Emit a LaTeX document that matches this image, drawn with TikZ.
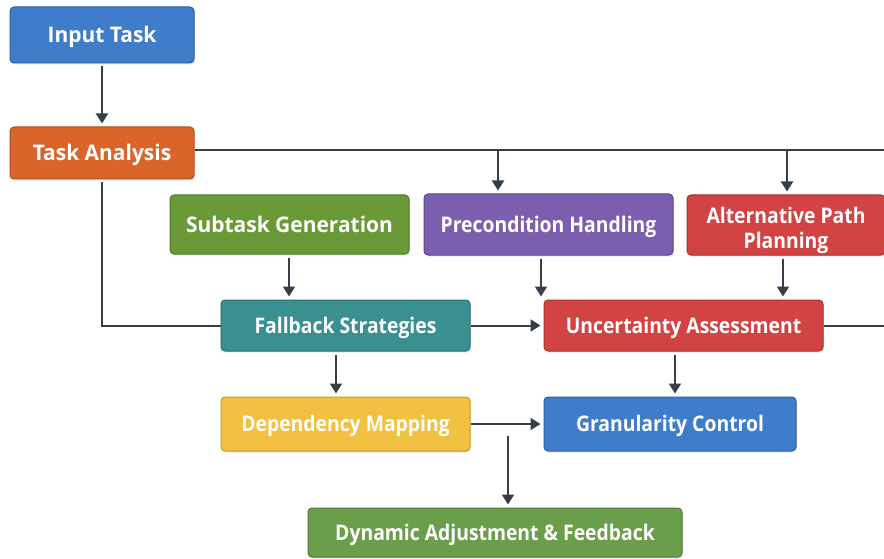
\documentclass[tikz,border=0pt]{standalone}
\usepackage{fontspec}
\setmainfont{Open Sans}[FakeStretch=0.9]
\newfontfamily\widefont{Open Sans}[FakeStretch=0.975]
\usetikzlibrary{arrows.meta,shadows}
\definecolor{lineC}{HTML}{363E4A}
\definecolor{cBlue}{HTML}{3F7DCA}
\definecolor{cBlueD}{HTML}{2D5E9C}
\definecolor{cOrange}{HTML}{D9652B}
\definecolor{cOrangeD}{HTML}{B04D1E}
\definecolor{cGreen}{HTML}{6A9A38}
\definecolor{cGreenD}{HTML}{507A28}
\definecolor{cPurple}{HTML}{7B5EAE}
\definecolor{cPurpleD}{HTML}{5C4389}
\definecolor{cRed}{HTML}{D24343}
\definecolor{cRedD}{HTML}{A83030}
\definecolor{cTeal}{HTML}{3A9090}
\definecolor{cTealD}{HTML}{2A6E6E}
\definecolor{cYellow}{HTML}{F2C141}
\definecolor{cYellowD}{HTML}{C99A2A}
\definecolor{cGreen2}{HTML}{6B9E4B}
\definecolor{cGreen2D}{HTML}{507C35}
\tikzset{
  box/.style={rounded corners=4pt, line width=1pt, text=white,
    font=\fontsize{21.5}{25}\selectfont\bfseries, align=center,
    text height=15.4pt, text depth=0pt,
    inner sep=0pt, drop shadow={opacity=0.18, shadow xshift=1pt, shadow yshift=-1.5pt}},
  widebox/.style={box, font=\widefont\fontsize{21.5}{25}\selectfont\bfseries},
  conn/.style={draw=lineC, line width=2pt},
  arr/.style={conn, -{Triangle[length=10pt,width=12pt]}, shorten <=3pt, shorten >=3pt}
}
\begin{document}
\begin{tikzpicture}[x=1pt,y=-1pt]
\useasboundingbox[fill=white] (0,0) rectangle (884,559);
\node[widebox, fill=cBlue, draw=cBlueD, minimum width=184pt, minimum height=56pt] (it) at (102,35) {Input Task};
\node[widebox, fill=cOrange, draw=cOrangeD, minimum width=184pt, minimum height=52pt] (ta) at (102,153) {Task Analysis};
\node[widebox, fill=cGreen, draw=cGreenD, minimum width=239pt, minimum height=59pt] (sg) at (289.5,224.5) {Subtask Generation};
\node[box, fill=cPurple, draw=cPurpleD, minimum width=249pt, minimum height=61pt] (ph) at (548.5,224.5) {Precondition Handling};
\node[box, fill=cRed, draw=cRedD, minimum width=198pt, minimum height=60pt, text height=46pt] (ap) at (786,225) {Alternative Path\\Planning};
\node[box, fill=cTeal, draw=cTealD, minimum width=249pt, minimum height=51pt] (fb) at (345.5,325.5) {Fallback Strategies};
\node[box, fill=cRed, draw=cRedD, minimum width=279pt, minimum height=51pt] (ua) at (683.5,325.5) {Uncertainty Assessment};
\node[box, fill=cYellow, draw=cYellowD, minimum width=249pt, minimum height=54pt] (dm) at (345.5,424) {Dependency Mapping};
\node[box, fill=cBlue, draw=cBlueD, minimum width=252pt, minimum height=54pt] (gc) at (670,424) {Granularity Control};
\node[box, fill=cGreen2, draw=cGreen2D, minimum width=374pt, minimum height=49pt] (dy) at (495,532.5) {Dynamic Adjustment \& Feedback};

\coordinate (r1) at (884,150);
\coordinate (j1) at (498,150);
\coordinate (j2) at (787,150);
\coordinate (r2) at (884,326);
\coordinate (x1) at (541,0);
\coordinate (x2) at (783,0);
\coordinate (x3) at (289,0);
\coordinate (x4) at (336,0);
\coordinate (x5) at (675,0);
\coordinate (d0) at (508,436);

\draw[arr] (it) -- (ta);
\draw[conn] (ta.east |- r1) -- (r1);
\draw[arr, shorten <=0pt] (j1) -- (j1 |- ph.north);
\draw[arr, shorten <=0pt] (j2) -- (j2 |- ap.north);
\draw[conn, shorten <=3pt] (ta.south) |- (fb.west);
\draw[arr] (x3 |- sg.south) -- (x3 |- fb.north);
\draw[arr] (x1 |- ph.south) -- (x1 |- ua.north);
\draw[arr] (x2 |- ap.south) -- (x2 |- ua.north);
\draw[arr, shorten <=0pt] (fb.east) -- (ua.west);
\draw[conn] (ua.east |- r2) -- (r2);
\draw[arr] (x4 |- fb.south) -- (x4 |- dm.north);
\draw[arr] (x5 |- ua.south) -- (x5 |- gc.north);
\draw[arr, shorten <=0pt] (dm.east) -- (gc.west);
\draw[arr, shorten <=0pt] (d0) -- (d0 |- dy.north);
\end{tikzpicture}
\end{document}
